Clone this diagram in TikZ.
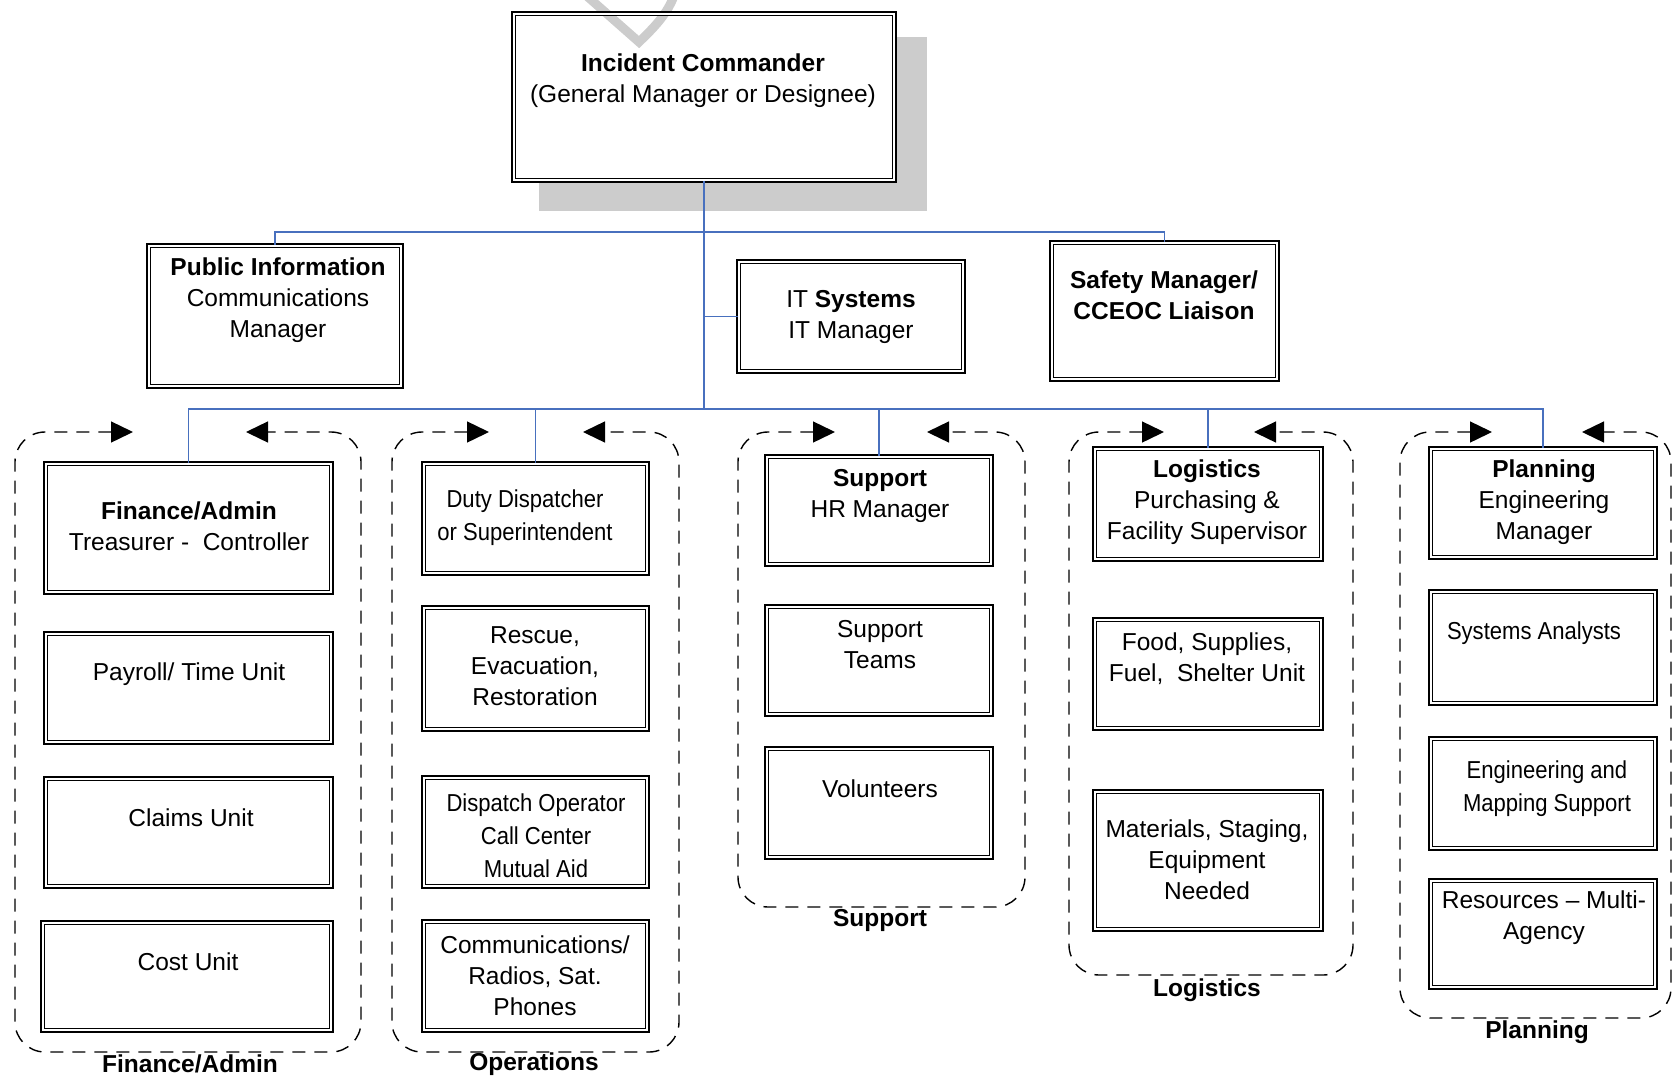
\documentclass[tikz,border=0pt]{standalone}
\usepackage{fontspec}
\setmainfont{Liberation Sans}
\newfontfamily\narrowfont[FakeStretch=0.9]{Liberation Sans}
\usetikzlibrary{arrows.meta}
\definecolor{connblue}{RGB}{72,112,190}
\definecolor{shadegray}{RGB}{204,204,204}
\newcommand\obox[5]{\node[box, minimum width={#4-#2-5.4}, minimum height={#5-#3-5.4}] (#1) at ({(#2+#4)/2},{(#3+#5)/2}) {};}
\newcommand\ogrp[7]{\draw[grp] (#6,#3) -- (#1,#3) -- (#1,#4) -- (#2,#4) -- (#2,#3) -- (#7,#3);}
\begin{document}
\begin{tikzpicture}[x=1pt,y=-1pt,
  box/.style={draw=black, double=white, double distance=2.3pt, line width=1.35pt, fill=white, inner sep=0pt, rectangle},
  txt/.style={align=center, inner sep=0pt, font=\fontsize{24.5}{31}\selectfont},
  ntxt/.style={align=center, inner sep=0pt, font=\narrowfont\fontsize{24.5}{33}\selectfont},
  conn/.style={draw=connblue, line width=1.5pt},
  grp/.style={draw=black, dash pattern=on 13pt off 9pt, line width=1.4pt, rounded corners=30pt,
    {Triangle[length=22pt,width=21pt]}-{Triangle[length=22pt,width=21pt]}},
  glabel/.style={font=\fontsize{24.5}{31}\selectfont\bfseries, inner sep=0pt}
]
\useasboundingbox (0,0) rectangle (1674,1077);
\fill[white] (0,0) rectangle (1674,1077);

% shadow of the top box, white face, watermark fragment
\fill[shadegray] (539,37) rectangle (927,211);
\fill[white] (511,11) rectangle (897,183);
\begin{scope}
\clip (0,0) rectangle (1674,1077);
\draw[shadegray, line width=9pt, line join=miter] (580,-10) -- (639,42) .. controls (658,24) and (670,10) .. (676,-10);
\end{scope}

% boxes
\node[box, fill=none, minimum width={897-511-5.4}, minimum height={183-11-5.4}] (ic) at (704,97) {};
\obox{pub}{146}{243}{404}{389}
\obox{it}{736}{259}{966}{374}
\obox{saf}{1049}{240}{1280}{382}
\obox{fin}{43}{461}{334}{595}
\obox{pay}{43}{631}{334}{745}
\obox{clm}{43}{776}{334}{889}
\obox{cost}{40}{920}{334}{1033}
\obox{duty}{421}{461}{650}{576}
\obox{resc}{421}{605}{650}{732}
\obox{dop}{421}{775}{650}{889}
\obox{comm}{421}{919}{650}{1033}
\obox{hr}{764}{454}{994}{567}
\obox{team}{764}{604}{994}{717}
\obox{vol}{764}{746}{994}{860}
\obox{logb}{1092}{446}{1324}{562}
\obox{food}{1092}{617}{1324}{731}
\obox{mat}{1092}{789}{1324}{932}
\obox{plan}{1428}{446}{1658}{560}
\obox{sa}{1428}{589}{1658}{706}
\obox{eng}{1428}{736}{1658}{851}
\obox{res}{1428}{878}{1658}{990}

% texts
\node[txt] (ict) at (703,80.5) {\textbf{Incident Commander}\\(General Manager or Designee)};
\node[txt] (pubt) at (278,300) {\textbf{Public Information}\\Communications\\Manager};
\node[txt] (itt) at (851,316.5) {IT \textbf{Systems}\\IT Manager};
\node[txt] (saft) at (1164,295.5) {\textbf{Safety Manager/}\\\textbf{CCEOC Liaison}};
\node[txt] (fint) at (189,526.5) {\textbf{Finance/Admin}\\Treasurer -\ \ Controller};
\node[txt] (payt) at (189,674) {Payroll/ Time Unit};
\node[txt] (clmt) at (191,818) {Claims Unit};
\node[txt] (costt) at (188,962) {Cost Unit};
\node[ntxt] (dutyt) at (525,517.5) {Duty Dispatcher\\or Superintendent};
\node[txt] (resct) at (535,666) {Rescue,\\Evacuation,\\Restoration};
\node[ntxt] (dopt) at (536,836) {Dispatch Operator\\Call Center\\Mutual Aid};
\node[txt] (commt) at (535,976) {Communications/\\Radios, Sat.\\Phones};
\node[txt] (hrt) at (880,495.5) {\textbf{Support}\\HR Manager};
\node[txt] (teamt) at (880,644.5) {Support\\Teams};
\node[txt] (volt) at (880,789) {Volunteers};
\node[txt] (logt) at (1207,502) {\textbf{Logistics}\\Purchasing \&\\Facility Supervisor};
\node[txt] (foodt) at (1207,658.5) {Food, Supplies,\\Fuel,\ \ Shelter Unit};
\node[txt] (matt) at (1207,860) {Materials, Staging,\\Equipment\\Needed};
\node[txt] (plant) at (1544,502) {\textbf{Planning}\\Engineering\\Manager};
\node[ntxt] (sat) at (1534,633) {Systems Analysts};
\node[ntxt] (engt) at (1547,788.5) {Engineering and\\Mapping Support};
\node[txt] (rest) at (1544,917.5) {Resources -- Multi-\\Agency};

% groups
\ogrp{15}{361}{432}{1052}{}{133}{246}
\ogrp{392}{679}{432}{1052}{}{489}{583}
\ogrp{738}{1025}{432}{907}{}{835}{927}
\ogrp{1069}{1353}{432}{975}{}{1164}{1254}
\ogrp{1400}{1671}{432}{1018}{}{1492}{1582}
\node[glabel] (gfin) at (190,1064) {Finance/Admin};
\node[glabel] (gops) at (534,1064) {Operations};
\node[glabel] (gsup) at (880,920) {Support};
\node[glabel] (glog) at (1207,990) {Logistics};
\node[glabel] (gplan) at (1537,1032) {Planning};

% connectors
\coordinate (busU) at (0,232);
\coordinate (busL) at (0,409);
\draw[conn] (pub.north) -- (pub.north |- busU) -- (saf.north |- busU) -- (saf.north);
\draw[conn] (ic.south) -- (ic.south |- busL);
\draw[conn] (it.west) -- (it.west -| ic.south);
\draw[conn] (fin.north) -- (fin.north |- busL) -- (plan.north |- busL) -- (plan.north);
\draw[conn, line width=2.6pt] (duty.north |- busL) -- (logb.north |- busL);
\draw[conn] (duty.north) -- (duty.north |- busL);
\draw[conn] (hr.north) -- (hr.north |- busL);
\draw[conn] (logb.north) -- (logb.north |- busL);
\end{tikzpicture}
\end{document}
